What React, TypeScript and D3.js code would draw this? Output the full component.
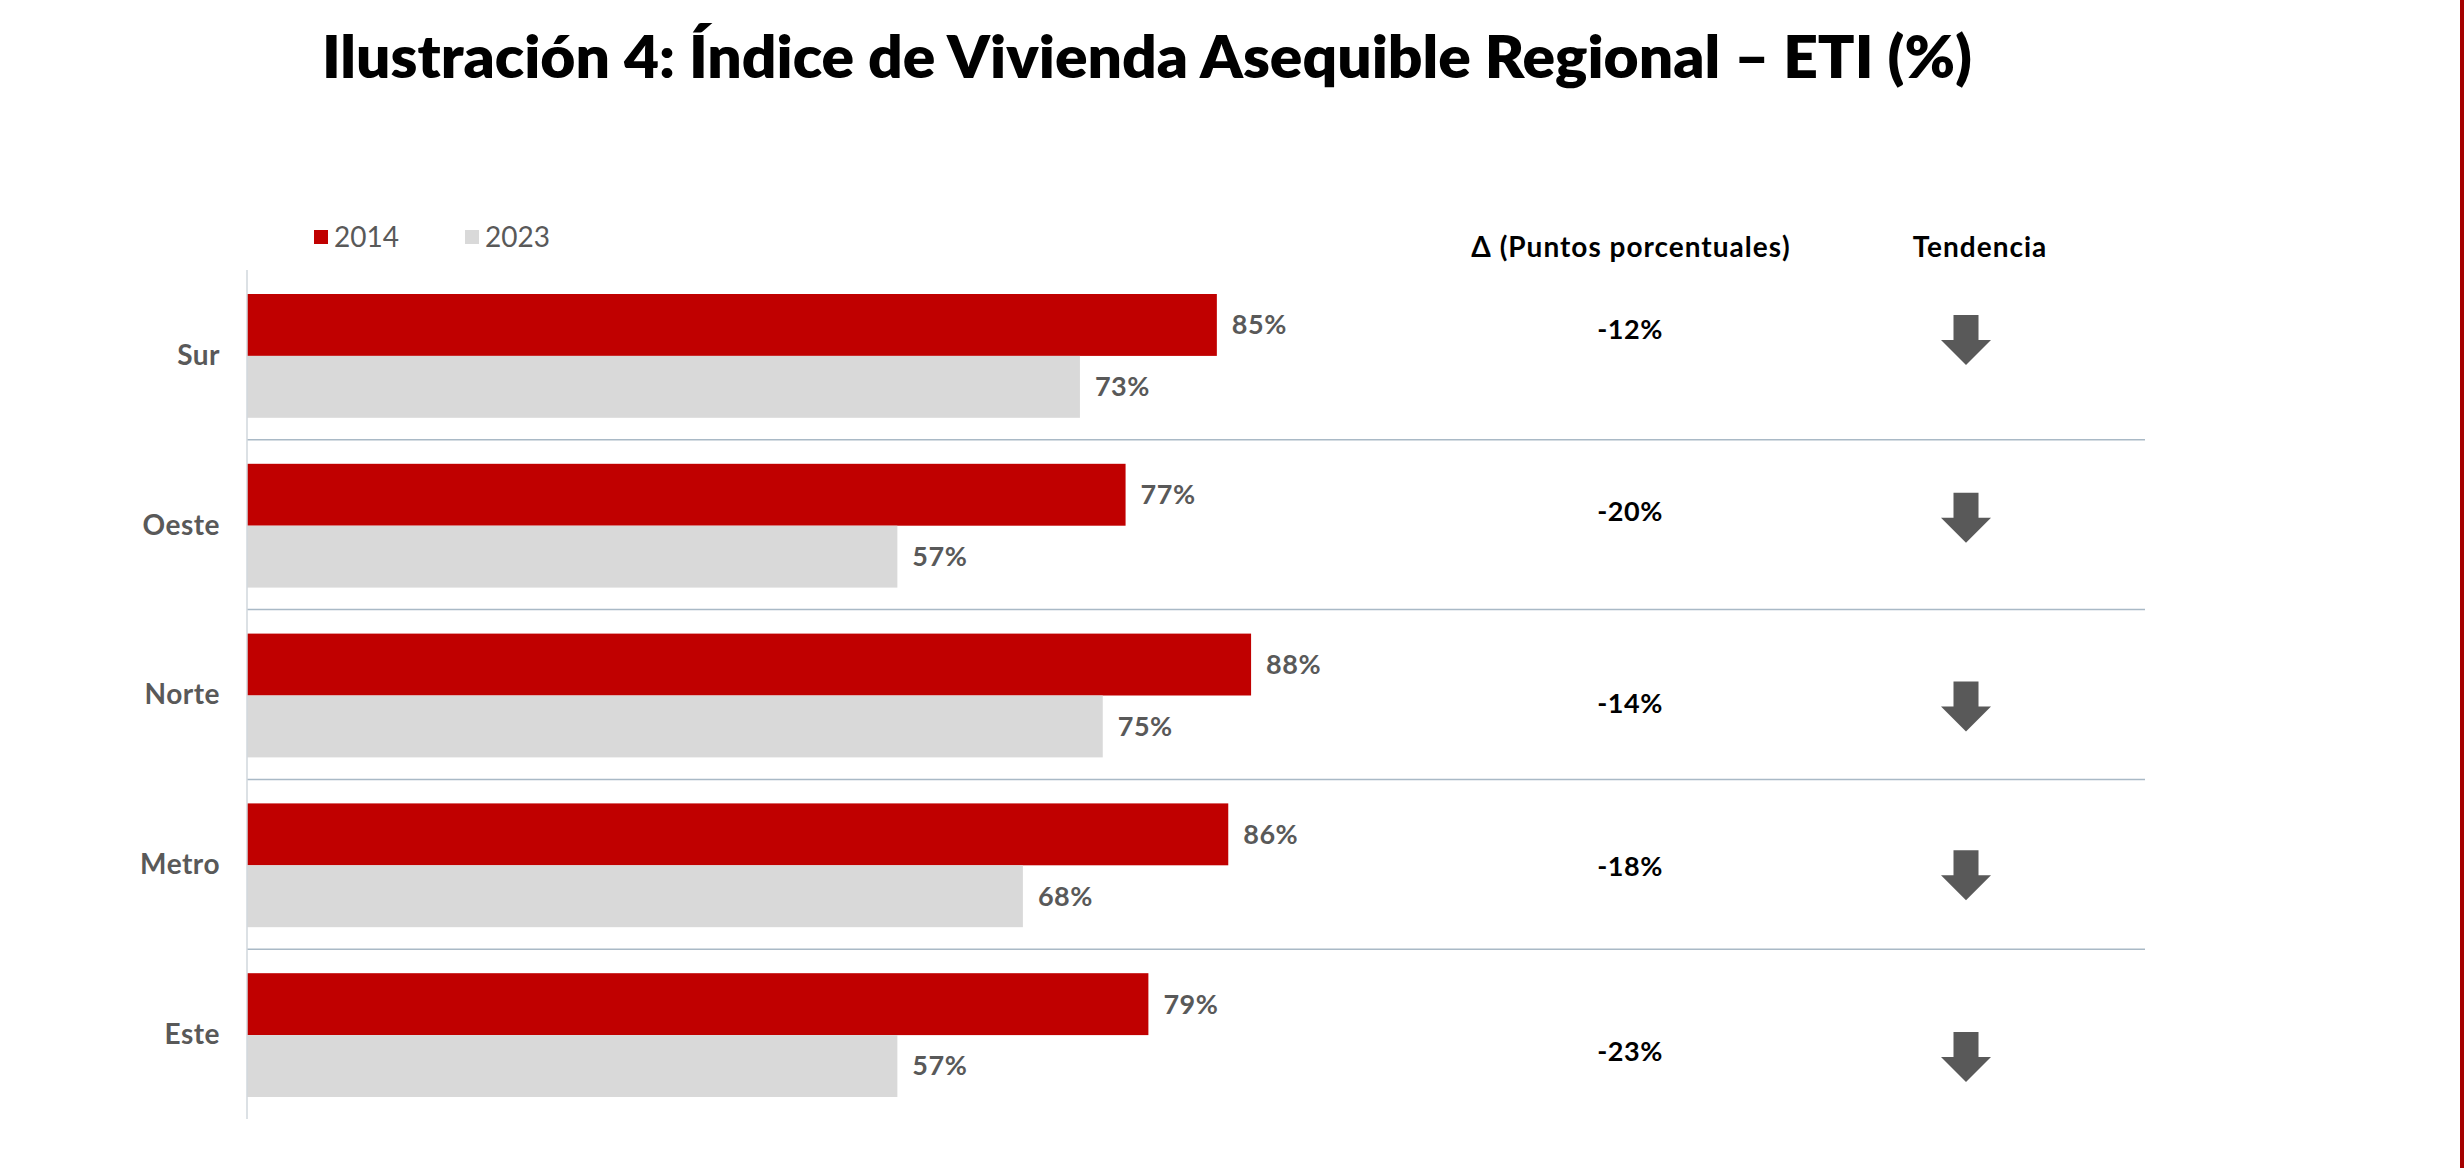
import * as d3 from "d3";
import { useEffect, useRef } from "react";

const regions = ["Sur", "Oeste", "Norte", "Metro", "Este"];
const values2014 = [85, 77, 88, 86, 79];
const values2023 = [73, 57, 75, 68, 57];
const deltas = [-12, -20, -14, -18, -23];
const seriesNames = ["2014", "2023"];

// small vertical nudges seen in the original table column (layout only)
const deltaNudge = [-25, -13, 9, 2, 17];
const arrowNudge = [-15, -7, 12, 11, 23];

const FONT = "'Lato', 'Open Sans', sans-serif";

export default function App() {
  const svgRef = useRef<SVGSVGElement | null>(null);

  useEffect(() => {
    document.body.style.margin = "0";
    if (!svgRef.current) return;

    const width = 2464;
    const height = 1168;
    const svg = d3.select(svgRef.current);
    svg.selectAll("*").remove();

    svg.append("rect").attr("width", width).attr("height", height).attr("fill", "#fff");

    // right red border
    svg
      .append("rect")
      .attr("x", width - 4)
      .attr("y", 0)
      .attr("width", 4)
      .attr("height", height)
      .attr("fill", "#a50000");

    // title
    svg
      .append("text")
      .attr("x", 322)
      .attr("y", 78)
      .attr("font-family", FONT)
      .attr("font-weight", 800)
      .attr("font-size", 58)
      .attr("fill", "#000")
      .attr("textLength", 1650)
      .attr("lengthAdjust", "spacingAndGlyphs")
      .text("Ilustración 4: Índice de Vivienda Asequible Regional – ETI (%)");

    const x = d3.scaleLinear().domain([0, 100]).range([247, 1388]);
    const y = d3.scaleBand<string>().domain(regions).range([270, 1119]);
    const inner = d3
      .scaleBand<string>()
      .domain(seriesNames)
      .range([24, y.bandwidth() - 22]);

    const colors = d3.scaleOrdinal<string, string>().domain(seriesNames).range(["#C00000", "#D9D9D9"]);

    // separators
    svg
      .append("g")
      .selectAll("line")
      .data(regions.slice(1))
      .join("line")
      .attr("x1", x(0))
      .attr("x2", 2145)
      .attr("y1", (d) => y(d)!)
      .attr("y2", (d) => y(d)!)
      .attr("stroke", "#a9b9c6")
      .attr("stroke-width", 1.5);

    // bars
    const rows = regions.map((r, i) => ({
      region: r,
      vals: [
        { s: seriesNames[0], v: values2014[i] },
        { s: seriesNames[1], v: values2023[i] },
      ],
    }));

    const rowG = svg
      .append("g")
      .selectAll("g")
      .data(rows)
      .join("g")
      .attr("transform", (d) => `translate(0,${y(d.region)})`);

    rowG
      .selectAll("rect")
      .data((d) => d.vals)
      .join("rect")
      .attr("x", x(0))
      .attr("y", (d) => inner(d.s)!)
      .attr("width", (d) => x(d.v) - x(0))
      .attr("height", inner.bandwidth())
      .attr("fill", (d) => colors(d.s));

    rowG
      .selectAll("text.val")
      .data((d) => d.vals)
      .join("text")
      .attr("class", "val")
      .attr("x", (d) => x(d.v) + 15)
      .attr("y", (d) => inner(d.s)! + inner.bandwidth() / 2)
      .attr("dy", "0.35em")
      .attr("font-family", FONT)
      .attr("font-weight", 700)
      .attr("font-size", 27)
      .attr("letter-spacing", 0.5)
      .attr("fill", "#595959")
      .text((d) => `${d.v}%`);

    // axis line
    svg
      .append("line")
      .attr("x1", x(0))
      .attr("x2", x(0))
      .attr("y1", 270)
      .attr("y2", 1119)
      .attr("stroke", "#d0d7dd")
      .attr("stroke-width", 1.5);

    // category labels
    svg
      .append("g")
      .selectAll("text")
      .data(regions)
      .join("text")
      .attr("x", 220)
      .attr("y", (d) => y(d)! + y.bandwidth() / 2)
      .attr("dy", "0.35em")
      .attr("text-anchor", "end")
      .attr("font-family", FONT)
      .attr("font-weight", 700)
      .attr("font-size", 28)
      .attr("letter-spacing", 0.5)
      .attr("fill", "#595959")
      .text((d) => d);

    // legend
    const legend = svg
      .append("g")
      .selectAll("g")
      .data(seriesNames)
      .join("g")
      .attr("transform", (_, i) => `translate(${314 + i * 151},237)`);
    legend
      .append("rect")
      .attr("x", 0)
      .attr("y", -7)
      .attr("width", 14)
      .attr("height", 14)
      .attr("fill", (d) => colors(d));
    legend
      .append("text")
      .attr("x", 20)
      .attr("y", 0)
      .attr("dy", "0.35em")
      .attr("font-family", FONT)
      .attr("font-weight", 400)
      .attr("font-size", 28)
      .attr("fill", "#595959")
      .text((d) => d);

    // table headers
    const headers = [
      { label: "Δ (Puntos porcentuales)", cx: 1631 },
      { label: "Tendencia", cx: 1980 },
    ];
    svg
      .append("g")
      .selectAll("text")
      .data(headers)
      .join("text")
      .attr("x", (d) => d.cx)
      .attr("y", 247)
      .attr("dy", "0.35em")
      .attr("text-anchor", "middle")
      .attr("font-family", FONT)
      .attr("font-weight", 700)
      .attr("font-size", 28)
      .attr("letter-spacing", 1)
      .attr("fill", "#000")
      .text((d) => d.label);

    // delta values
    svg
      .append("g")
      .selectAll("text")
      .data(regions)
      .join("text")
      .attr("x", 1630)
      .attr("y", (d, i) => y(d)! + y.bandwidth() / 2 + deltaNudge[i])
      .attr("dy", "0.35em")
      .attr("text-anchor", "middle")
      .attr("font-family", FONT)
      .attr("font-weight", 700)
      .attr("font-size", 27)
      .attr("letter-spacing", 0.5)
      .attr("fill", "#000")
      .text((_, i) => `${deltas[i]}%`);

    // trend arrows (down)
    const arrowPath = (cx: number, cy: number) => {
      const h = 50;
      const top = cy - h / 2;
      const shaftW = 25;
      const headW = 50;
      const headTop = top + h * 0.5;
      const p = d3.path();
      p.moveTo(cx - shaftW / 2, top);
      p.lineTo(cx + shaftW / 2, top);
      p.lineTo(cx + shaftW / 2, headTop);
      p.lineTo(cx + headW / 2, headTop);
      p.lineTo(cx, top + h);
      p.lineTo(cx - headW / 2, headTop);
      p.lineTo(cx - shaftW / 2, headTop);
      p.closePath();
      return p.toString();
    };
    svg
      .append("g")
      .selectAll("path")
      .data(regions)
      .join("path")
      .attr("d", (d, i) => arrowPath(1966, y(d)! + y.bandwidth() / 2 + arrowNudge[i]))
      .attr("fill", "#595959");
  }, []);

  return <svg ref={svgRef} width={2464} height={1168} style={{ display: "block" }} />;
}
